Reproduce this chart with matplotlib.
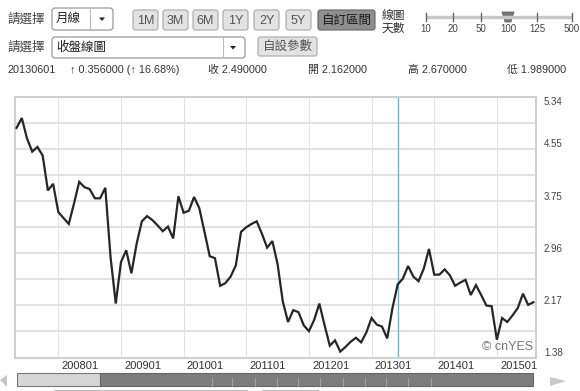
import numpy as np
import pandas as pd
import matplotlib
matplotlib.use('Agg')
import matplotlib.pyplot as plt
from matplotlib.patches import FancyBboxPatch, Rectangle, Polygon

# monthly close, 2007-05 .. 2015-08
close = [4.87, 5.02, 4.71, 4.51, 4.58, 4.45, 3.92, 4.02,
         3.59, 3.50, 3.41, 3.72, 4.05, 3.97, 3.94, 3.80, 3.80, 3.96, 2.91, 2.20,
         2.83, 3.01, 2.66, 3.11, 3.45, 3.53, 3.47, 3.39, 3.30, 3.37, 3.19, 3.83,
         3.58, 3.61, 3.82, 3.65, 3.29, 2.92, 2.89, 2.47, 2.51, 2.61, 2.78, 3.29,
         3.36, 3.41, 3.45, 3.26, 3.05, 3.15, 2.80, 2.23, 1.92, 2.10, 2.07, 1.87,
         1.78, 1.95, 2.20, 1.87, 1.56, 1.64, 1.47, 1.54, 1.62, 1.68, 1.61, 1.76,
         1.98, 1.88, 1.85, 1.67, 2.13, 2.49, 2.58, 2.77, 2.61, 2.54, 2.73, 3.03,
         2.64, 2.64, 2.72, 2.63, 2.47, 2.52, 2.56, 2.33, 2.48, 2.33, 2.17, 2.16,
         1.65, 1.98, 1.92, 2.02, 2.13, 2.35, 2.18, 2.22]
start_month = '2007-05'
cursor_month = '2013-06'
y_ticks = [1.38, 2.17, 2.96, 3.75, 4.55, 5.34]
y_labels = ['1.38', '2.17', '2.96', '3.75', '4.55', '5.34']
year_labels = ['200801', '200901', '201001', '201101', '201201', '201301', '201401', '201501']

buttons = ['1M', '3M', '6M', '1Y', '2Y', '5Y']
slider_days = ['10', '20', '50', '100', '125', '500']
info_date = '20130601'
info_change = '↑ 0.356000 (↑ 16.68%)'
info_close = '收 2.490000'
info_open = '開 2.162000'
info_high = '高 2.670000'
info_low = '低 1.989000'

FONT = ['Liberation Sans', 'Noto Sans CJK TC', 'DejaVu Sans']
plt.rcParams['font.family'] = FONT

months = pd.period_range(start_month, periods=len(close), freq='M')
x = (months.year - 2008) * 12 + months.month - 1
cur = pd.Period(cursor_month, freq='M')
cur_x = (cur.year - 2008) * 12 + cur.month - 1

W, H = 580, 391
fig = plt.figure(figsize=(W / 100, H / 100), dpi=100)
fig.patch.set_facecolor('white')

# overlay in pixel coordinates for the page controls
ui = fig.add_axes([0, 0, 1, 1])
ui.set_xlim(0, W)
ui.set_ylim(H, 0)
ui.axis('off')


def box(x0, y0, x1, y1, fc, ec='#9a9a9a', r=2.5, lw=0.8):
    ui.add_patch(FancyBboxPatch((x0, y0), x1 - x0, y1 - y0,
                                boxstyle='round,pad=0,rounding_size=%g' % r,
                                fc=fc, ec=ec, lw=lw))


def arrow_down(cx, cy):
    ui.add_patch(Polygon([(cx - 3, cy - 1.5), (cx + 3, cy - 1.5), (cx, cy + 2)],
                         closed=True, fc='#222', ec='none'))


# row 1
ui.text(7, 20, '請選擇', fontsize=9, color='#444', va='center')
box(52, 8, 113, 30, 'white', ec='#8c8c8c', r=3)
ui.plot([90, 90], [9, 29], color='#bbbbbb', lw=0.8)
ui.text(56, 19, '月線', fontsize=9, color='#222', va='center')
arrow_down(102, 19)

bx = [133, 163, 193, 223, 254, 286]
for b, x0 in zip(buttons, bx):
    box(x0, 10, x0 + 25, 30, '#e2e2e2', ec='#a8a8a8')
    ui.text(x0 + 12.5, 20.5, b, fontsize=9, color='#555', ha='center', va='center')
box(318, 10, 375, 30, '#8e8e8e', ec='#666666')
ui.text(346.5, 20.5, '自訂區間', fontsize=9, color='#1a1a1a', ha='center', va='center')

# slider
ui.text(382, 16, '線圖', fontsize=8.5, color='#333', va='center')
ui.text(382, 29, '天數', fontsize=8.5, color='#333', va='center')
ui.plot([426, 572], [17, 17], color='#c8c8c8', lw=2.5, solid_capstyle='butt')
sx = [426, 453, 481, 508, 537, 572]
for s, xx in zip(slider_days, sx):
    if s != '100':
        ui.plot([xx, xx], [13, 21], color='#666', lw=1)
    ui.text(xx, 29.5, s, fontsize=7, color='#444', ha='center', va='center')
ui.add_patch(Polygon([(502, 12), (514, 12), (511, 22), (505, 22)],
                     closed=True, fc='#777', ec='#555', lw=0.5))

# row 2
ui.text(7, 48, '請選擇', fontsize=9, color='#444', va='center')
box(52, 37, 245, 58, 'white', ec='#8c8c8c', r=3)
ui.plot([223, 223], [38, 57], color='#bbbbbb', lw=0.8)
ui.text(56, 47.5, '收盤線圖', fontsize=9, color='#222', va='center')
arrow_down(233, 47.5)
box(258, 37, 317, 56, '#e2e2e2', ec='#a8a8a8')
ui.text(287.5, 46.5, '自設參數', fontsize=9, color='#555', ha='center', va='center')

# row 3 info line
for s, xx in [(info_date, 7), (info_change, 70), (info_close, 208),
              (info_open, 308), (info_high, 408), (info_low, 507)]:
    ui.text(xx, 70, s, fontsize=7.8, color='#333', va='center')

# scrollbar
ui.add_patch(Rectangle((17, 373), 83, 13, fc='#d6d6d6', ec='#777', lw=0.8))
ui.add_patch(Rectangle((100, 373), 433, 13, fc='#7d7d7d', ec='#666', lw=0.8))
for tx in [212, 232, 255, 277, 298, 320, 343, 365, 386, 408, 431]:
    ui.plot([tx, tx], [378, 386], color='#a8a8a8', lw=0.6)
ui.add_patch(Polygon([(0, 380), (7, 375), (7, 387)], closed=True, fc='#c4c4c4', ec='none'))
ui.add_patch(Polygon([(550, 377), (566, 381), (550, 386)], closed=True, fc='#c8c8c8', ec='none'))
ui.plot([54, 247], [389.5, 389.5], color='#bbbbbb', lw=0.8)
ui.plot([262, 318], [389.5, 389.5], color='#bbbbbb', lw=0.8)

# main chart
ax = fig.add_axes([15 / W, 1 - 357.5 / H, 521 / W, 260.5 / H])
ax.set_facecolor('white')
ax.set_xlim(-8.3, 91.5)
ax.set_ylim(1.38, 5.34)

step = (5.34 - 1.38) / 10
for k in range(1, 10):
    ax.axhline(1.38 + k * step, color='#dcdcdc', lw=1.2, zorder=1)
for i, lab in enumerate(year_labels):
    ax.axvline(i * 12, color='#e2e2e2', lw=0.8, zorder=1)
    ax.text(i * 12 + 0.6, -0.033, lab, transform=ax.get_xaxis_transform(),
            fontsize=8, color='#333', ha='left', va='center', clip_on=False)

for v, lab in zip(y_ticks, y_labels):
    va = 'top' if lab == '5.34' else 'bottom'
    ax.text(1.015, v, lab, transform=ax.get_yaxis_transform(),
            fontsize=7, color='#444', ha='left', va=va, clip_on=False)

ax.axvline(cur_x, color='#6fb3d2', lw=1.0, zorder=2)
ax.plot(x, close, color='#262626', lw=1.6, zorder=3, solid_joinstyle='miter')

ax.text(0.995, 0.04, '© cnYES', transform=ax.transAxes, fontsize=9,
        color='#777', ha='right', va='center')

ax.set_xticks([])
ax.set_yticks([])
for sp in ax.spines.values():
    sp.set_color('#cfcfcf')
    sp.set_linewidth(1.5)

fig.savefig('out.png', dpi=100, facecolor='white')
